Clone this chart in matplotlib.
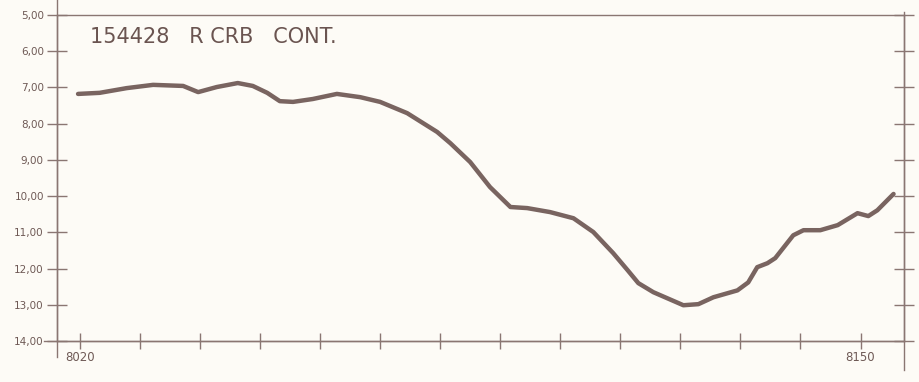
import numpy as np
import matplotlib.pyplot as plt
from matplotlib.lines import Line2D

# Curve
wavelength = [8019.7, 8023.3, 8027.8, 8032.2, 8037.2, 8039.7, 8042.8, 8046.3, 8048.8,
              8051.2, 8053.3, 8055.5, 8058.8, 8062.8, 8066.7, 8070.0, 8074.5, 8079.5,
              8081.7, 8085.0, 8088.3, 8091.7, 8094.5, 8098.3, 8102.2, 8105.5, 8108.8,
              8111.2, 8113.0, 8115.5, 8120.5, 8123.0, 8125.5, 8129.5, 8131.3, 8132.8,
              8134.5, 8135.8, 8138.8, 8140.5, 8143.3, 8146.2, 8149.5, 8151.3, 8152.8,
              8155.5]
magnitude = [7.18, 7.15, 7.02, 6.93, 6.96, 7.13, 6.99, 6.88, 6.96,
             7.15, 7.38, 7.40, 7.32, 7.18, 7.27, 7.40, 7.71, 8.23,
             8.54, 9.06, 9.75, 10.30, 10.33, 10.44, 10.61, 10.99, 11.57,
             12.04, 12.40, 12.65, 13.01, 12.98, 12.79, 12.60, 12.38, 11.96,
             11.85, 11.71, 11.08, 10.94, 10.94, 10.80, 10.47, 10.55, 10.39,
             9.94]

y_ticks = [5, 6, 7, 8, 9, 10, 11, 12, 13, 14]
y_ticklabels = ['5,00', '6,00', '7,00', '8,00', '9,00', '10,00', '11,00', '12,00', '13,00', '14,00']
x_ticks = list(range(8020, 8151, 10))
x_ticklabels = ['8020'] + [''] * 12 + ['8150']
title = '154428   R CRB   CONT.'

paper = '#fdfbf6'
ink = '#8a7672'
curve = '#725c58'

fig = plt.figure(figsize=(9.2, 3.82), dpi=100, facecolor=paper)
ax = fig.add_axes([0.062, 0.107, 0.921, 0.854], facecolor=paper)

ax.plot(wavelength, magnitude, color=curve, lw=3.2, solid_capstyle='round',
        solid_joinstyle='round', alpha=0.95)

ax.set_xlim(8016.2, 8157.3)
ax.set_ylim(14.0, 5.0)

ax.set_yticks(y_ticks)
ax.set_yticklabels(y_ticklabels)
ax.set_xticks(x_ticks)
ax.set_xticklabels(x_ticklabels)

for s in ax.spines.values():
    s.set_color(ink)
    s.set_linewidth(1.0)

ax.tick_params(axis='y', direction='inout', length=15, width=1, color=ink,
               labelsize=7.5, labelcolor='#6e5955', pad=2, right=True)
ax.tick_params(axis='x', direction='inout', length=12, width=1, color=ink,
               labelsize=8.5, labelcolor='#6e5955', pad=1)

# axis lines run a bit past the frame, like the hand drawn original
ax.add_line(Line2D([0, 0], [-0.05, 1.05], transform=ax.transAxes, color=ink, lw=1, clip_on=False))
ax.add_line(Line2D([-0.015, 1.0], [0, 0], transform=ax.transAxes, color=ink, lw=1, clip_on=False))
ax.add_line(Line2D([1, 1], [-0.09, 1.01], transform=ax.transAxes, color=ink, lw=1, clip_on=False))

fig.text(0.098, 0.903, title, fontsize=15, color='#6a5450', va='center', ha='left',
         family='DejaVu Sans')

fig.savefig('out.png', dpi=100, facecolor=paper)
